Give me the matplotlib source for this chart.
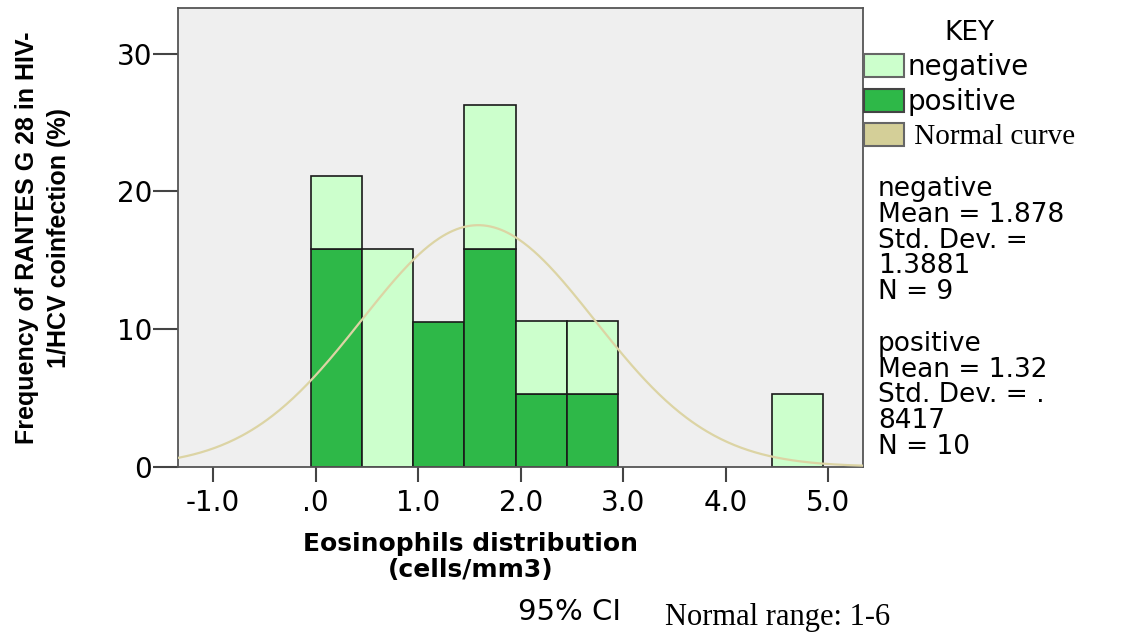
import numpy as np
import matplotlib
matplotlib.use('Agg')
import matplotlib.pyplot as plt
from matplotlib.patches import Patch

# 히스토그램 데이터 (% of N = 19), 폭 0.5 구간
bin_left = [-0.05, 0.45, 0.95, 1.45, 1.95, 2.45, 4.45]
pos_pct = [15.8, 0.0, 10.5, 15.8, 5.3, 5.3, 0.0]
neg_pct = [5.3, 15.8, 0.0, 10.5, 5.3, 5.3, 5.3]
bin_width = 0.5

# 그룹 통계
neg_mean, neg_sd, neg_n = 1.878, 1.3881, 9
pos_mean, pos_sd, pos_n = 1.32, 0.8417, 10

x_ticks = [-1.0, 0.0, 1.0, 2.0, 3.0, 4.0, 5.0]
x_tick_labels = ['-1.0', '.0', '1.0', '2.0', '3.0', '4.0', '5.0']
y_ticks = [0, 10, 20, 30]

light_green = '#ccffcc'
dark_green = '#2eb848'
curve_color = '#dcd4a4'
sans = ['DejaVu Sans']
serif = ['Liberation Serif', 'DejaVu Serif']
arial = ['Liberation Sans', 'DejaVu Sans']

plt.rcParams['font.family'] = sans

fig = plt.figure(figsize=(11.34, 6.34), dpi=100)
ax = fig.add_axes([0.1572, 0.2639, 0.6041, 0.723])
ax.set_facecolor('#efefef')

# 누적 막대: positive 아래, negative 위
for x, p, n in zip(bin_left, pos_pct, neg_pct):
    if p > 0:
        ax.bar(x, p, width=bin_width, align='edge', color=dark_green,
               edgecolor='#1a1a1a', linewidth=1.2, zorder=2)
    if n > 0:
        ax.bar(x, n, width=bin_width, bottom=p, align='edge', color=light_green,
               edgecolor='#1a1a1a', linewidth=1.2, zorder=2)

# 정규 곡선 (전체 표본)
n_all = neg_n + pos_n
mu = (neg_n * neg_mean + pos_n * pos_mean) / n_all
ss = ((neg_n - 1) * neg_sd ** 2 + (pos_n - 1) * pos_sd ** 2
      + neg_n * (neg_mean - mu) ** 2 + pos_n * (pos_mean - mu) ** 2)
sd = np.sqrt(ss / (n_all - 1))
xs = np.linspace(-1.34, 5.34, 400)
ys = 100 * bin_width / (sd * np.sqrt(2 * np.pi)) * np.exp(-0.5 * ((xs - mu) / sd) ** 2)
ax.plot(xs, ys, color=curve_color, linewidth=1.6, zorder=3)

ax.set_xlim(-1.34, 5.34)
ax.set_ylim(0, 33.3)
ax.set_xticks(x_ticks)
ax.set_xticklabels(x_tick_labels)
ax.set_yticks(y_ticks)
ax.tick_params(axis='y', length=18, width=1.5, color='#444444', labelsize=20, pad=1)
ax.tick_params(axis='x', length=11, width=1.5, color='#444444', labelsize=20, pad=5)
for s in ax.spines.values():
    s.set_color('#555555')
    s.set_linewidth(1.3)

# 축 제목
fig.text(0.415, 1 - 557 / 634, 'Eosinophils distribution\n(cells/mm3)',
         ha='center', va='center', fontsize=18, fontweight='bold', linespacing=1.1)
fig.text(0.038, 1 - 238 / 634, 'Frequency of RANTES G 28 in HIV-\n1/HCV coinfection (%)',
         ha='center', va='center', rotation=90, fontsize=18, fontweight='bold',
         family=arial, linespacing=1.4)

# 범례
handles = [Patch(facecolor=light_green, edgecolor='#666666', linewidth=1.5),
           Patch(facecolor=dark_green, edgecolor='#444444', linewidth=1.5),
           Patch(facecolor='#d4cf98', edgecolor='#666666', linewidth=1.5)]
leg = fig.legend(handles, ['negative', 'positive', ' Normal curve'], title='KEY',
                 loc='upper left', bbox_to_anchor=(864 / 1134, 1 - 20 / 634),
                 frameon=False, fontsize=20, title_fontsize=19, borderpad=0,
                 handlelength=1.45, handleheight=0.9, handletextpad=0.1,
                 labelspacing=0.25, borderaxespad=0)
leg.get_texts()[2].set_family(serif)
leg.get_texts()[2].set_fontsize(21)

stats = (f'negative\nMean = {neg_mean}\nStd. Dev. =\n{neg_sd}\nN = {neg_n}\n\n'
         f'positive\nMean = {pos_mean}\nStd. Dev. = .\n{str(pos_sd)[2:]}\nN = {pos_n}')
fig.text(878 / 1134, 1 - 176 / 634, stats, ha='left', va='top', fontsize=19,
         linespacing=0.99)

fig.text(569 / 1134, 1 - 612 / 634, '95% CI', ha='center', va='center', fontsize=21)
fig.text(665 / 1134, 1 - 618 / 634, 'Normal range: 1-6', ha='left', va='center',
         fontsize=22, family=serif)

fig.savefig('out.png', dpi=100)
